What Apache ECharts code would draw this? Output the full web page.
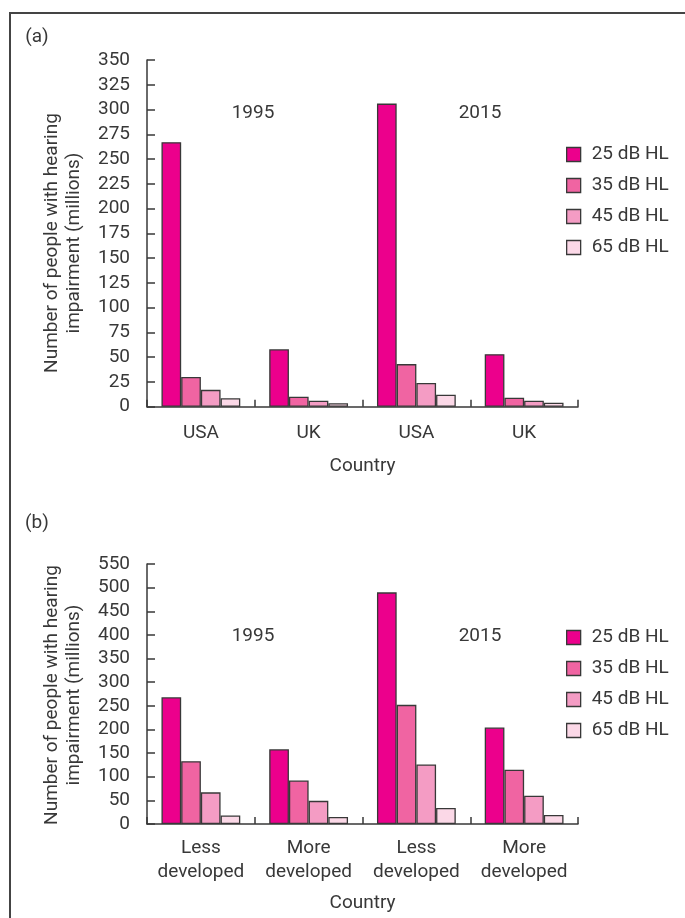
<!DOCTYPE html>
<html>
<head>
<meta charset="utf-8">
<script src="https://cdn.jsdelivr.net/npm/echarts@6/dist/echarts.min.js"></script>
<style>
  html, body { margin: 0; padding: 0; background: #fff; }
  #chart { width: 685px; height: 918px; }
</style>
</head>
<body>
<div id="chart"></div>
<script>
// Hearing impairment counts (millions) by threshold level
const levels = ['25 dB HL', '35 dB HL', '45 dB HL', '65 dB HL'];

// Panel (a): USA / UK, 1995 then 2015
const countriesA = ['USA', 'UK', 'USA', 'UK'];
const a25 = [267, 58, 306, 53];
const a35 = [30, 10, 43, 9];
const a45 = [17, 6, 24, 6];
const a65 = [8.5, 3.5, 12, 4];

// Panel (b): less / more developed countries, 1995 then 2015
const countriesB = ['Less\ndeveloped', 'More\ndeveloped', 'Less\ndeveloped', 'More\ndeveloped'];
const b25 = [268, 158, 490, 204];
const b35 = [133, 92, 252, 115];
const b45 = [67, 49, 126, 60];
const b65 = [18, 15, 34, 19];

const yearLabels = ['1995', '2015'];
const axisTitle = ['Number of people with hearing', 'impairment (millions)'];

const colors = ['#EC008C', '#F064A2', '#F49CC4', '#FBD8E7'];
const ink = '#383838';
const font = 'Roboto, "Liberation Sans", sans-serif';
const fs = 19;

const chart = echarts.init(document.getElementById('chart'), null, { renderer: 'canvas' });

function xAxisFor(gridIndex, cats, margin) {
  return {
    type: 'category', gridIndex, data: cats, boundaryGap: true,
    axisLine: { lineStyle: { color: ink, width: 1.5 } },
    axisTick: { show: true, inside: true, length: 7, lineStyle: { color: ink, width: 1.5 } },
    axisLabel: { color: ink, fontSize: fs, fontFamily: font, margin, lineHeight: 24, interval: 0 },
    name: 'Country', nameLocation: 'middle',
    nameTextStyle: { color: ink, fontSize: fs, fontFamily: font }
  };
}
function yAxisFor(gridIndex, max, interval) {
  return {
    type: 'value', gridIndex, min: 0, max, interval,
    axisLine: { show: true, lineStyle: { color: ink, width: 1.5 } },
    axisTick: { show: true, inside: true, length: 8, lineStyle: { color: ink, width: 1.5 } },
    axisLabel: { color: ink, fontSize: fs, fontFamily: font, margin: 17 },
    splitLine: { show: false }
  };
}
function barSeries(name, data, idx, axisIdx) {
  return {
    type: 'bar', name, data, xAxisIndex: axisIdx, yAxisIndex: axisIdx,
    barWidth: 19.7, barGap: '0%',
    itemStyle: { color: colors[idx], borderColor: ink, borderWidth: 1.3 },
    emphasis: { disabled: true },
    silent: true
  };
}
function legendFor(top) {
  return {
    orient: 'vertical', left: 561, top, data: levels,
    icon: 'rect', itemWidth: 14, itemHeight: 14, itemGap: 12,
    itemStyle: { borderColor: ink, borderWidth: 1.3 },
    textStyle: { color: ink, fontSize: fs, fontFamily: font, padding: [0, 0, 0, 6] },
    selectedMode: false
  };
}
function titleText(x, y, text) {
  return { type: 'text', x, y, style: { text, fill: ink, fontSize: fs, fontFamily: font, align: 'center', verticalAlign: 'middle' } };
}
function rotatedTitle(cy) {
  return axisTitle.map((t, i) => ({
    type: 'text', x: 52 + i * 22, y: cy, rotation: Math.PI / 2,
    style: { text: t, fill: ink, fontSize: fs, fontFamily: font, align: 'center', verticalAlign: 'middle' }
  }));
}

const xA = xAxisFor(0, countriesA, 15); xA.nameGap = 50;
const xB = xAxisFor(1, countriesB, 12); xB.nameGap = 70;

chart.setOption({
  animation: false,
  backgroundColor: '#ffffff',
  grid: [
    { left: 147, top: 60, width: 431, height: 346.7 },
    { left: 147, top: 564, width: 431, height: 260 }
  ],
  xAxis: [xA, xB],
  yAxis: [yAxisFor(0, 350, 25), yAxisFor(1, 550, 50)],
  legend: [legendFor(140), legendFor(623)],
  series: [
    barSeries(levels[0], a25, 0, 0),
    barSeries(levels[1], a35, 1, 0),
    barSeries(levels[2], a45, 2, 0),
    barSeries(levels[3], a65, 3, 0),
    barSeries(levels[0], b25, 0, 1),
    barSeries(levels[1], b35, 1, 1),
    barSeries(levels[2], b45, 2, 1),
    barSeries(levels[3], b65, 3, 1)
  ],
  graphic: [
    { type: 'rect', shape: { x: 10, y: 13, width: 700, height: 930 }, style: { fill: 'none', stroke: '#444', lineWidth: 2 }, silent: true },
    titleText(37, 37, '(a)'),
    titleText(37, 523, '(b)'),
    titleText(253, 113, yearLabels[0]),
    titleText(480, 113, yearLabels[1]),
    titleText(253, 636, yearLabels[0]),
    titleText(480, 636, yearLabels[1]),
    ...rotatedTitle(243),
    ...rotatedTitle(695)
  ]
});
</script>
</body>
</html>
